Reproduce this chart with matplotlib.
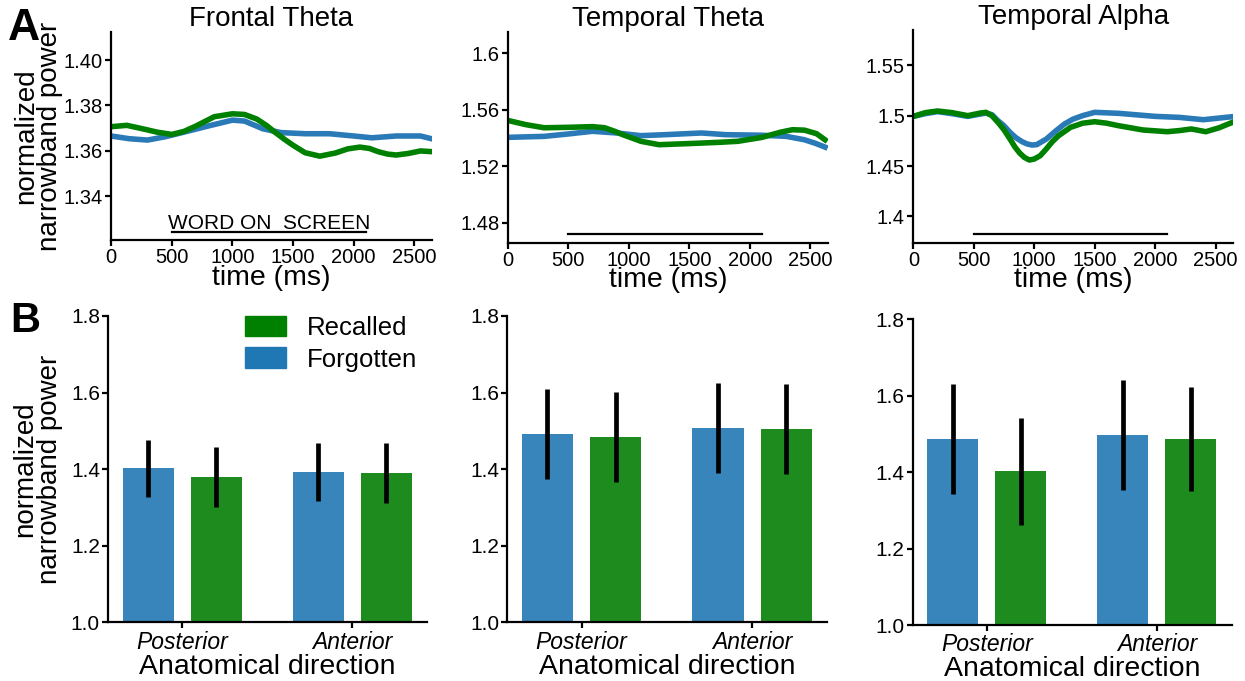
import numpy as np
import matplotlib
matplotlib.use("Agg")
import matplotlib.pyplot as plt
from matplotlib.patches import Patch

plt.rcParams['font.family'] = ['Liberation Sans', 'DejaVu Sans']

# ---- time courses (ms, normalized narrowband power) ----
# Frontal Theta
ft_t_rec = [0, 130, 250, 380, 500, 600, 700, 850, 1000, 1100, 1200, 1280, 1350, 1430, 1500,
            1600, 1720, 1850, 1950, 2050, 2130, 2200, 2280, 2350, 2450, 2550, 2640]
ft_rec = [1.3706, 1.3712, 1.3698, 1.3682, 1.3672, 1.3685, 1.3709, 1.3750, 1.3763, 1.3760,
          1.3740, 1.3712, 1.3682, 1.3650, 1.3624, 1.3591, 1.3576, 1.3590, 1.3608, 1.3616,
          1.3610, 1.3596, 1.3585, 1.3581, 1.3588, 1.3599, 1.3596]
ft_t_for = [0, 150, 300, 450, 600, 800, 1000, 1100, 1250, 1400, 1600, 1800, 2000, 2150,
            2350, 2550, 2640]
ft_for = [1.3665, 1.3653, 1.3647, 1.3662, 1.3682, 1.3709, 1.3735, 1.3731, 1.3697, 1.3680,
          1.3675, 1.3675, 1.3665, 1.3657, 1.3665, 1.3665, 1.3653]

# Temporal Theta
tt_t_rec = [0, 150, 300, 500, 700, 800, 880, 950, 1030, 1100, 1250, 1500, 1750, 1900,
            2100, 2250, 2350, 2450, 2550, 2620]
tt_rec = [1.5524, 1.5494, 1.5472, 1.5475, 1.5480, 1.5472, 1.5448, 1.5423, 1.5398, 1.5376,
          1.5352, 1.5360, 1.5369, 1.5376, 1.5404, 1.5440, 1.5458, 1.5455, 1.5430, 1.5387]
tt_t_for = [0, 300, 500, 700, 900, 1100, 1300, 1600, 1800, 2100, 2300, 2450, 2540, 2620]
tt_for = [1.5404, 1.5411, 1.5428, 1.5447, 1.5435, 1.5416, 1.5423, 1.5435, 1.5423, 1.5419,
          1.5411, 1.5387, 1.5362, 1.5335]

# Temporal Alpha
ta_t_rec = [0, 100, 200, 320, 450, 550, 600, 650, 700, 750, 800, 840, 880, 920, 960, 1000,
            1050, 1100, 1150, 1200, 1300, 1400, 1500, 1600, 1700, 1900, 2100, 2200, 2300,
            2420, 2530, 2640]
ta_rec = [1.4993, 1.5030, 1.5046, 1.5030, 1.5000, 1.5025, 1.5033, 1.5000, 1.4934, 1.4860,
          1.4768, 1.4690, 1.4629, 1.4585, 1.4560, 1.4570, 1.4603, 1.4670, 1.4742, 1.4800,
          1.4884, 1.4925, 1.4940, 1.4925, 1.4900, 1.4858, 1.4841, 1.4852, 1.4868, 1.4841,
          1.4880, 1.4934]
ta_t_for = [0, 100, 200, 320, 450, 550, 600, 650, 700, 750, 800, 850, 900, 940, 980, 1020,
            1100, 1180, 1250, 1320, 1400, 1500, 1700, 2000, 2200, 2400, 2520, 2640]
ta_for = [1.4993, 1.5020, 1.5040, 1.5020, 1.4993, 1.5015, 1.5026, 1.5010, 1.4950, 1.4900,
          1.4834, 1.4780, 1.4742, 1.4720, 1.4709, 1.4712, 1.4768, 1.4850, 1.4917, 1.4965,
          1.5000, 1.5033, 1.5023, 1.4993, 1.4983, 1.4960, 1.4975, 1.4990]

line_titles = ["Frontal Theta", "Temporal Theta", "Temporal Alpha"]
line_yticks = [[1.34, 1.36, 1.38, 1.40], [1.48, 1.52, 1.56, 1.6], [1.4, 1.45, 1.5, 1.55]]
line_yticklabels = [["1.34", "1.36", "1.38", "1.40"], ["1.48", "1.52", "1.56", "1.6"],
                    ["1.4", "1.45", "1.5", "1.55"]]
line_ylims = [(1.3206, 1.4124), (1.4658, 1.615), (1.374, 1.585)]
word_span = (500, 2100)

# ---- bar summaries: [Posterior, Anterior] ----
directions = ["Posterior", "Anterior"]
bar_forgotten = [[1.402, 1.392], [1.492, 1.507], [1.487, 1.497]]
bar_recalled = [[1.379, 1.389], [1.484, 1.505], [1.403, 1.487]]
err_forgotten = [[0.075, 0.075], [0.117, 0.117], [0.145, 0.144]]
err_recalled = [[0.078, 0.078], [0.117, 0.118], [0.140, 0.136]]

blue = "#1f77b4"
green = "#008000"
line_blue = "#2a7ab8"
bar_blue = "#3885bc"
bar_green = "#1e8b1e"

fig = plt.figure(figsize=(12.45, 6.81), dpi=100)

top_pos = [[0.0892, 0.6476, 0.2578, 0.3054],
           [0.4078, 0.6436, 0.2573, 0.3094],
           [0.7336, 0.6436, 0.2568, 0.3124]]
bot_pos = [[0.0870, 0.0862, 0.2560, 0.4498],
           [0.4075, 0.0862, 0.2570, 0.4498],
           [0.7331, 0.0822, 0.2562, 0.4489]]

series = [(ft_t_rec, ft_rec, ft_t_for, ft_for),
          (tt_t_rec, tt_rec, tt_t_for, tt_for),
          (ta_t_rec, ta_rec, ta_t_for, ta_for)]


def style(ax):
    for s in ["top", "right"]:
        ax.spines[s].set_visible(False)
    for s in ["left", "bottom"]:
        ax.spines[s].set_linewidth(1.6)
    ax.tick_params(direction="out", length=4, width=1.6, labelsize=14.5, pad=2)


for i in range(3):
    ax = fig.add_axes(top_pos[i])
    tr, r, tf, f = series[i]
    ax.plot(tf, f, color=line_blue, lw=4, solid_joinstyle="round")
    ax.plot(tr, r, color=green, lw=4, solid_joinstyle="round")
    ax.set_xlim(0, 2645)
    ax.set_ylim(*line_ylims[i])
    ax.set_xticks([0, 500, 1000, 1500, 2000, 2500])
    ax.set_yticks(line_yticks[i])
    ax.set_yticklabels(line_yticklabels[i])
    style(ax)
    ax.set_title(line_titles[i], fontsize=20, pad=4)
    ax.set_xlabel("time (ms)", fontsize=20.5, labelpad=-2)
    y0, y1 = line_ylims[i]
    yline = y0 + (y1 - y0) * 0.04
    if i == 0:
        ax.annotate("WORD ON  SCREEN", (sum(word_span) / 2, yline),
                    xytext=(0, 2), textcoords="offset points",
                    ha="center", va="baseline", fontsize=15)
    ax.plot(word_span, [yline, yline], color="black", lw=1.6)
    if i == 0:
        ax.set_ylabel("normalized\nnarrowband power", fontsize=20, labelpad=0,
                      linespacing=0.9)

for i in range(3):
    ax = fig.add_axes(bot_pos[i])
    x = np.arange(len(directions))
    ax.bar(x - 0.2, np.array(bar_forgotten[i]) - 1.0, bottom=1.0, width=0.3,
           color=bar_blue)
    ax.bar(x + 0.2, np.array(bar_recalled[i]) - 1.0, bottom=1.0, width=0.3,
           color=bar_green)
    ax.errorbar(x - 0.2, bar_forgotten[i], yerr=err_forgotten[i], fmt="none",
                ecolor="black", elinewidth=3.4, capsize=0)
    ax.errorbar(x + 0.2, bar_recalled[i], yerr=err_recalled[i], fmt="none",
                ecolor="black", elinewidth=3.4, capsize=0)
    ax.set_xlim(-0.435, 1.44)
    ax.set_ylim(1.0, 1.8)
    ax.set_yticks([1.0, 1.2, 1.4, 1.6, 1.8])
    ax.set_yticklabels(["1.0", "1.2", "1.4", "1.6", "1.8"])
    ax.set_xticks(x)
    ax.set_xticklabels(directions, fontstyle="italic")
    style(ax)
    ax.tick_params(axis="y", labelsize=15)
    ax.tick_params(axis="x", labelsize=16.5)
    ax.set_xlabel("Anatomical direction", fontsize=20.5, labelpad=0)
    if i == 0:
        ax.set_ylabel("normalized\nnarrowband power", fontsize=20, labelpad=6,
                      linespacing=0.9)
        handles = [Patch(color=green, label="Recalled"),
                   Patch(color=blue, label="Forgotten")]
        ax.legend(handles=handles, loc="upper right", fontsize=18.5, frameon=False,
                  handlelength=1.6, handleheight=0.85, borderaxespad=0.0,
                  bbox_to_anchor=(1.0, 1.035), labelspacing=0.3, handletextpad=0.8)

fig.text(0.006, 0.988, "A", fontsize=32, fontweight="bold", va="top")
fig.text(0.008, 0.558, "B", fontsize=30, fontweight="bold", va="top")

fig.savefig("out.png", dpi=100)
